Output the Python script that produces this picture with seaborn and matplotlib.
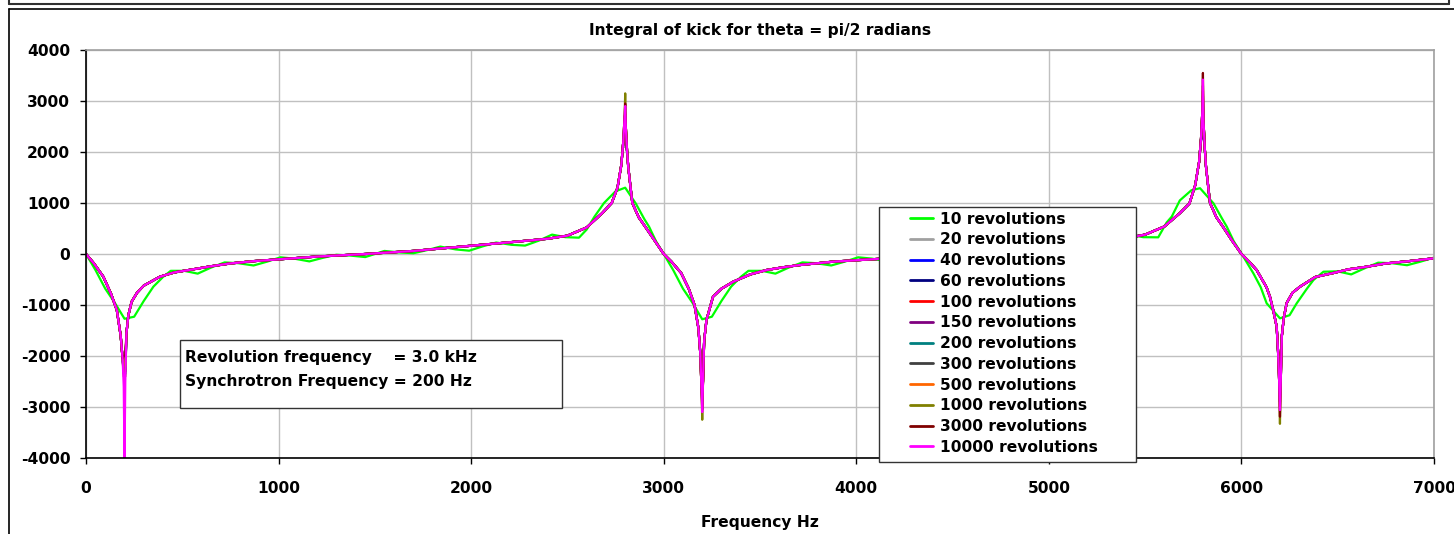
import numpy as np
import pandas as pd
import matplotlib
matplotlib.use("Agg")
import matplotlib.pyplot as plt
import seaborn as sns
from matplotlib.patches import Rectangle
from matplotlib.lines import Line2D

# frequency grid (Hz) for the converged curves, dense around the resonances
freq = [0, 40, 90, 130, 160, 180, 190, 196, 200, 204, 210, 220, 237, 265, 300, 384, 460, 556, 650,
        750, 870, 1000, 1200, 1450, 1700, 1950, 2200, 2400, 2500, 2600, 2680, 2730, 2760, 2780, 2790,
        2797, 2800, 2803, 2810, 2816, 2837, 2870, 2904, 2950,
        3000, 3040, 3090, 3130, 3160, 3180, 3190, 3196, 3200, 3204, 3210, 3222, 3256, 3300, 3361, 3450,
        3534, 3620, 3708, 3879, 4106, 4300, 4500, 4750, 5000, 5200, 5400, 5500, 5600, 5680, 5730, 5760,
        5780, 5790, 5797, 5800, 5803, 5810, 5816, 5837, 5870, 5904, 5950,
        6000, 6040, 6079, 6130, 6148, 6165, 6183, 6190, 6196, 6200, 6204, 6210, 6220, 6235, 6265, 6304,
        6384, 6477, 6556, 6651, 6750, 6870, 7000]
# integral of kick, 10000 revolutions
kick_limit = [0, -180, -445, -780, -1100, -1600, -2050, -2600, -4000, -2500, -1550, -1200, -935, -760,
              -620, -445, -360, -300, -240, -185, -140, -105, -50, 0, 60, 145, 230, 300, 360, 520, 800,
              1000, 1300, 1750, 2200, 2700, 2900, 2500, 2000, 1700, 1000, 720, 535, 280,
              0, -150, -370, -680, -1000, -1450, -1950, -2600, -3100, -2500, -1700, -1294, -837, -680,
              -543, -400, -314, -260, -216, -150, -98, -50, 0, 60, 140, 210, 310, 380, 540, 800, 990,
              1350, 1800, 2250, 2800, 3420, 2600, 2050, 1712, 1000, 720, 535, 270,
              0, -150, -314, -650, -837, -1100, -1425, -1900, -2500, -3060, -2500, -1600, -1250, -961,
              -760, -641, -450, -373, -300, -249, -185, -140, -84]

labels = ["10 revolutions", "20 revolutions", "40 revolutions", "60 revolutions", "100 revolutions",
          "150 revolutions", "200 revolutions", "300 revolutions", "500 revolutions",
          "1000 revolutions", "3000 revolutions", "10000 revolutions"]
colors = ["#00FF00", "#A0A0A0", "#0000FF", "#000080", "#FF0000", "#800080", "#008080", "#404040",
          "#FF6600", "#808000", "#800000", "#FF00FF"]

# tip value each series reaches at the resonances
resonances = [200, 2800, 3200, 5800, 6200]
spike = {
    "20 revolutions": [-2300, 2100, -2300, 2300, -2100],
    "40 revolutions": [-2350, 2200, -2300, 2300, -2200],
    "60 revolutions": [-2300, 2400, -2500, 2600, -2400],
    "100 revolutions": [-2150, 2500, -2700, 2800, -2000],
    "150 revolutions": [-2200, 2600, -2800, 2900, -2600],
    "200 revolutions": [-2250, 2650, -2850, 3000, -2800],
    "300 revolutions": [-2300, 2700, -2900, 3100, -2900],
    "500 revolutions": [-2200, 2750, -2950, 3200, -3000],
    "1000 revolutions": [-2400, 3150, -3250, 3300, -3330],
    "3000 revolutions": [-2000, 2950, -3050, 3550, -3190],
    "10000 revolutions": [-4000, 2900, -3100, 3420, -3060],
}

# 10 revolutions: wide resonances with ripple
freq_10 = [0, 50, 100, 150, 200, 250, 300, 350, 400, 440, 510, 580, 650, 720, 790, 870, 940, 1010, 1080,
           1160, 1230, 1300, 1370, 1450, 1550, 1630, 1700, 1770, 1840, 1920, 1990, 2060, 2130, 2210,
           2280, 2350, 2420, 2490, 2560, 2600, 2640, 2690, 2750, 2800, 2855, 2900, 2924, 2960,
           3000, 3050, 3100, 3150, 3200, 3250, 3300, 3350, 3400, 3440, 3510, 3580, 3650, 3720, 3790,
           3870, 3940, 4010, 4080, 4160, 4230, 4300, 4370, 4450, 4550, 4630, 4700, 4770, 4840, 4920,
           4990, 5060, 5130, 5210, 5280, 5350, 5420, 5490, 5568, 5612, 5638, 5680, 5740, 5785, 5855,
           5900, 5924, 5960,
           6000, 6062, 6100, 6131, 6200, 6250, 6287, 6340, 6374, 6426, 6500, 6570, 6640, 6710, 6780,
           6860, 6930, 7000]
kick_10 = [0, -320, -680, -960, -1270, -1230, -920, -640, -450, -330, -330, -385, -265, -165, -180, -225,
           -150, -65, -90, -145, -75, -15, -30, -60, 60, 30, 15, 75, 145, 90, 65, 150, 225, 180, 165, 260,
           380, 330, 320, 480, 730, 1000, 1230, 1300, 990, 680, 535, 250,
           0, -320, -680, -960, -1280, -1230, -920, -640, -450, -330, -330, -385, -265, -165, -180, -225,
           -150, -65, -90, -145, -75, -15, -30, -60, 60, 30, 15, 75, 145, 90, 65, 150, 225, 180, 165,
           260, 380, 330, 327, 620, 732, 1050, 1250, 1290, 993, 690, 535, 250,
           10, -379, -650, -967, -1261, -1200, -967, -680, -510, -347, -340, -400, -280, -170, -180,
           -220, -150, -70]

# long table for seaborn
f_arr = np.array(freq, dtype=float)
base = np.array(kick_limit, dtype=float)
parts = [pd.DataFrame({"freq": freq_10, "kick": kick_10, "series": labels[0]})]
for name in labels[1:]:
    y = base.copy()
    for f0, tip in zip(resonances, spike[name]):
        near = np.abs(f_arr - f0) <= 6
        y[near] = np.clip(y[near], min(tip, 0), max(tip, 0))
        y[f_arr == f0] = tip
    parts.append(pd.DataFrame({"freq": freq, "kick": y, "series": name}))
df = pd.concat(parts, ignore_index=True)

sns.set_style("ticks")
plt.rcParams["font.family"] = ["DejaVu Sans"]
plt.rcParams["font.weight"] = "bold"
plt.rcParams["font.size"] = 11.2
plt.rcParams["axes.unicode_minus"] = False
for key in ["text.color", "axes.labelcolor", "xtick.color", "ytick.color"]:
    plt.rcParams[key] = "black"

fig = plt.figure(figsize=(14.54, 5.34), dpi=100)
ax = fig.add_axes([0.05915, 0.14232, 0.92710, 0.76404])

sns.lineplot(data=df, x="freq", y="kick", hue="series", hue_order=labels,
             palette=dict(zip(labels, colors)), estimator=None, errorbar=None,
             linewidth=1.6, ax=ax)

ax.set_xlim(0, 7000)
ax.set_ylim(-4000, 4000)
ax.set_xticks(range(0, 7001, 1000))
ax.set_yticks(range(-4000, 4001, 1000))
ax.grid(True, color="#C0C0C0", linewidth=1.0)
ax.set_axisbelow(True)
for side in ["left", "bottom"]:
    ax.spines[side].set_color("black")
    ax.spines[side].set_linewidth(1.2)
for side in ["top", "right"]:
    ax.spines[side].set_color("#A0A0A0")
    ax.spines[side].set_linewidth(1.2)
ax.tick_params(axis="both", direction="out", length=4.3, width=1.0, color="black")
ax.tick_params(axis="x", pad=12)
ax.tick_params(axis="y", pad=7)

ax.set_title("Integral of kick for theta = pi/2 radians", fontsize=11.2, fontweight="bold",
             color="black", pad=11)
ax.set_xlabel("Frequency Hz", fontsize=11.2, fontweight="bold", labelpad=14)
ax.set_ylabel("")

# legend with its own box
handles, names = ax.get_legend_handles_labels()
ax.get_legend().remove()
ax.add_patch(Rectangle((0.5883, -0.0098), 0.1906, 0.625, transform=ax.transAxes,
                       facecolor="white", edgecolor="#333333", linewidth=1.0,
                       zorder=4, clip_on=False))
leg = ax.legend(handles, names, loc="upper left", bbox_to_anchor=(0.6113, 0.604),
                frameon=False, borderpad=0, borderaxespad=0, handlelength=1.5,
                handletextpad=0.4, labelspacing=0.37,
                prop={"weight": "bold", "size": 11.2})
leg.set_zorder(5)
for h in leg.get_lines():
    h.set_linewidth(2.0)
for t in leg.get_texts():
    t.set_color("black")

# parameter box
ax.add_patch(Rectangle((0.0697, 0.1225), 0.2834, 0.1667, transform=ax.transAxes,
                       facecolor="white", edgecolor="#333333", linewidth=1.0, zorder=4))
ax.text(0.0734, 0.2475, "Revolution frequency    = 3.0 kHz", transform=ax.transAxes,
        va="center", ha="left", fontsize=11.2, fontweight="bold", zorder=5)
ax.text(0.0734, 0.1863, "Synchrotron Frequency = 200 Hz", transform=ax.transAxes,
        va="center", ha="left", fontsize=11.2, fontweight="bold", zorder=5)

# chart area frames
W, H = 1454.0, 534.0
def frame(xs, ys, color="black", lw=1.2):
    fig.add_artist(Line2D([x / W for x in xs], [1 - y / H for y in ys],
                          transform=fig.transFigure, color=color, linewidth=lw))
frame([8.5, 8.5], [9, 534])
frame([8.5, 1454], [9, 9])
frame([9, 1449], [4, 4], color="#303030", lw=1.5)
frame([9, 9], [0, 4], color="#303030", lw=1.5)
frame([1449, 1449], [0, 4], color="#303030", lw=1.5)

fig.savefig("out.png", dpi=100)
